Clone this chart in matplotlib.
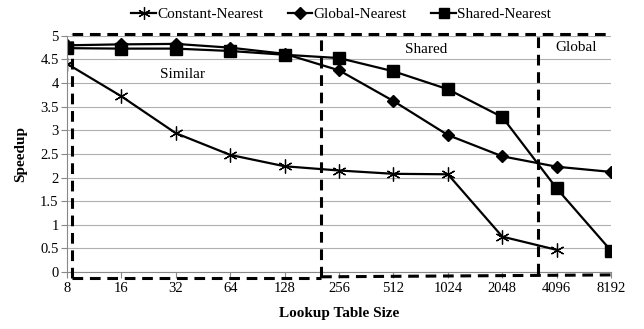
import matplotlib
matplotlib.use("Agg")
import matplotlib.pyplot as plt

sizes = ["8", "16", "32", "64", "128", "256", "512", "1024", "2048", "4096", "8192"]
constant_nearest = [4.41, 3.72, 2.94, 2.48, 2.24, 2.15, 2.08, 2.07, 0.75, 0.47]
global_nearest = [4.80, 4.82, 4.83, 4.75, 4.62, 4.27, 3.62, 2.90, 2.45, 2.23, 2.12]
shared_nearest = [4.74, 4.73, 4.73, 4.68, 4.60, 4.53, 4.25, 3.87, 3.28, 1.77, 0.45]
y_ticks = [0, 0.5, 1, 1.5, 2, 2.5, 3, 3.5, 4, 4.5, 5]

plt.rcParams["font.family"] = ["Liberation Serif", "DejaVu Serif"]

fig = plt.figure(figsize=(6.44, 3.29), dpi=100)
ax = fig.add_axes([0.104, 0.173, 0.845, 0.718])

x = list(range(len(sizes)))
ax.plot(x[:len(constant_nearest)], constant_nearest, color="black", lw=1.6,
        marker=(6, 2, 0), ms=10, mew=0.9, label="Constant-Nearest")
ax.plot(x, global_nearest, color="black", lw=1.6, marker="D", ms=6.5,
        label="Global-Nearest")
ax.plot(x, shared_nearest, color="black", lw=1.6, marker="s", ms=8,
        label="Shared-Nearest")

ax.set_xlim(0, len(sizes) - 1)
ax.set_ylim(0, 5)
ax.set_xticks(x)
ax.set_xticklabels(sizes)
ax.set_yticks(y_ticks)
ax.set_yticklabels([f"{v:g}" for v in y_ticks])
ax.tick_params(axis="both", labelsize=10.5, length=4, color="#888888", width=0.8)
ax.tick_params(axis="x", pad=3)
ax.tick_params(axis="y", pad=2)

ax.grid(axis="y", color="#b0b0b0", lw=0.8)
ax.set_axisbelow(True)
for side in ["top", "right"]:
    ax.spines[side].set_visible(False)
for side in ["left", "bottom"]:
    ax.spines[side].set_color("#888888")
    ax.spines[side].set_linewidth(0.8)

ax.set_ylabel("Speedup", fontsize=11, fontweight="bold", labelpad=9)
ax.set_xlabel("Lookup Table Size", fontsize=11, fontweight="bold", labelpad=9)

# dashed region boxes
dash = dict(color="black", lw=2.2, ls=(0, (3.5, 2.2)), clip_on=False, zorder=5)
ax.plot([0.09, 0.09], [-0.13, 5.04], **dash)
ax.plot([0.09, 4.67], [-0.13, -0.13], **dash)
ax.plot([0.09, 10.0], [5.04, 5.04], **dash)
ax.plot([4.67, 4.67], [-0.10, 5.04], **dash)
ax.plot([4.67, 10.0], [-0.10, -0.06], **dash)
ax.plot([8.66, 8.66], [-0.05, 5.02], **dash)

ax.text(2.12, 4.19, "Similar", fontsize=11, ha="center", va="center")
ax.text(6.6, 4.72, "Shared", fontsize=11, ha="center", va="center")
ax.text(9.35, 4.75, "Global", fontsize=11, ha="center", va="center")

fig.legend(loc="upper center", bbox_to_anchor=(0.53, 1.02), ncol=3,
           frameon=False, fontsize=11, handlelength=1.6, handletextpad=0.1,
           columnspacing=1.6, markerscale=0.9)

fig.savefig("out.png", dpi=100)
